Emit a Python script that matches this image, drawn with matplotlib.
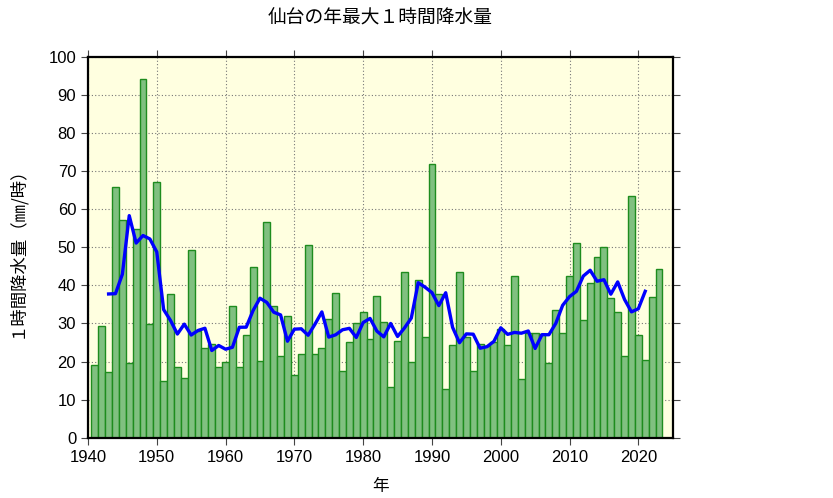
import matplotlib
matplotlib.use('Agg')
import matplotlib.pyplot as plt
import numpy as np
import pandas as pd

plt.rcParams['font.family'] = ['Liberation Sans', 'Noto Sans CJK JP', 'DejaVu Sans']

years = list(range(1941, 2024))
rain = [19.1, 29.3, 17.3, 65.9, 57.1, 19.5, 54.8, 94.2, 29.9, 67.0,
        15.0, 37.8, 18.5, 15.6, 49.2, 28.0, 23.5, 24.5, 18.5, 20.0,
        34.6, 18.6, 27.0, 44.8, 20.1, 56.5, 34.7, 21.5, 32.0, 16.5,
        22.0, 50.5, 22.0, 23.5, 31.1, 38.0, 17.5, 25.0, 30.1, 33.0,
        26.0, 37.1, 30.4, 13.4, 25.5, 43.6, 20.0, 41.5, 26.5, 71.9,
        37.7, 12.9, 24.4, 43.4, 26.5, 17.5, 24.5, 24.0, 25.0, 28.5,
        24.4, 42.4, 15.4, 27.5, 27.5, 27.3, 19.5, 33.5, 27.4, 42.4,
        51.0, 30.9, 40.5, 47.4, 50.0, 36.6, 32.9, 21.5, 63.5, 26.9,
        20.4, 37.0, 44.4]

# 5年移動平均 (中心)
ma5 = pd.Series(rain).rolling(5, center=True).mean()

fig = plt.figure(figsize=(8.33, 4.98), dpi=100)
ax = fig.add_axes([0.1056, 0.121, 0.702, 0.765])
ax.set_facecolor('#ffffe0')

ax.bar(years, rain, width=1.0, color='#80c080', edgecolor='#1e8c1e', linewidth=1.0, zorder=2)
ax.plot(years, ma5, color='#0000ff', linewidth=2.4, zorder=3)

ax.set_xlim(1940, 2025)
ax.set_ylim(0, 100)
ax.set_xticks(range(1940, 2021, 10))
ax.set_yticks(range(0, 101, 10))

ax.grid(True, color='#777777', linestyle=(0, (1, 2)), linewidth=0.8, zorder=1)
ax.set_axisbelow(True)

ax.tick_params(direction='out', length=5, width=0.8, color='#444444',
               labelsize=12, top=True, right=True)
for s in ax.spines.values():
    s.set_linewidth(1.6)
    s.set_color('black')
    s.set_zorder(4)

ax.set_title('仙台の年最大１時間降水量', fontsize=13.5, family=['Noto Sans CJK JP'], pad=24)
ax.set_xlabel('年', fontsize=12, family=['Noto Sans CJK JP'], labelpad=10)
ax.set_ylabel('１時間降水量（㎜/時）', fontsize=12.5, family=['Noto Sans CJK JP', 'DejaVu Sans'], labelpad=17)

plt.savefig('out.png')
